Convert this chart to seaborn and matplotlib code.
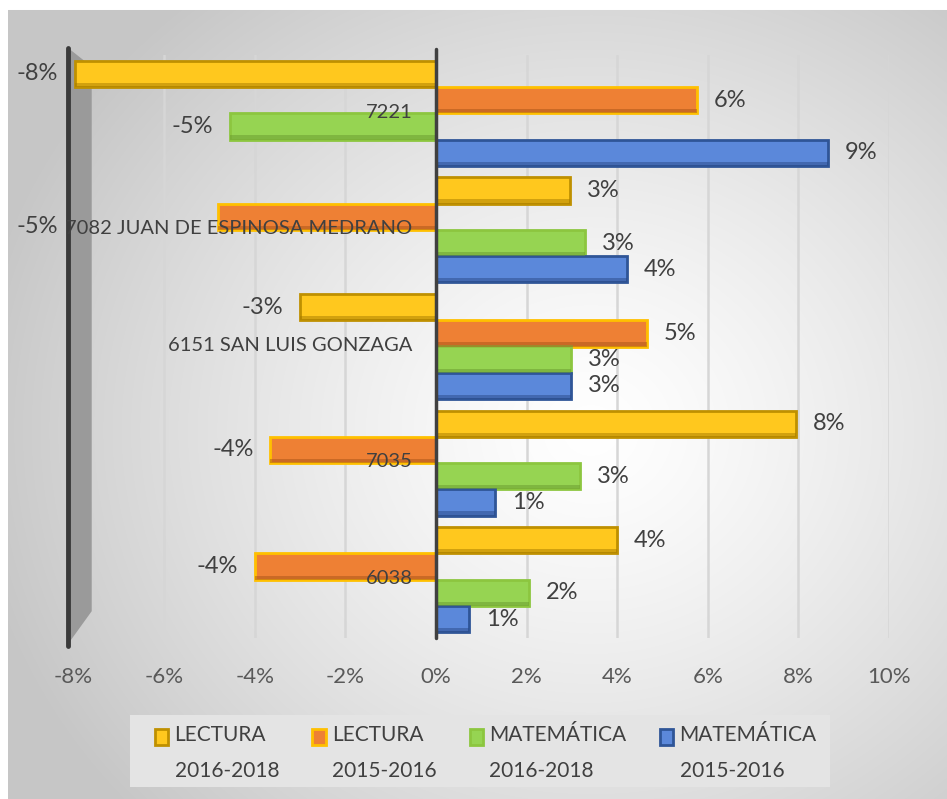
import matplotlib
matplotlib.use("Agg")
import matplotlib.pyplot as plt
import numpy as np
import pandas as pd
import seaborn as sns
from matplotlib.patches import Polygon, Rectangle
from matplotlib.legend_handler import HandlerPatch

# data
schools = ["7221", "7082 JUAN DE ESPINOSA MEDRANO", "6151 SAN LUIS GONZAGA",
           "7035", "6038"]
series = ["LECTURA\n2016-2018", "LECTURA\n2015-2016",
          "MATEMÁTICA\n2016-2018", "MATEMÁTICA\n2015-2016"]
lectura_16_18 = [-7.97, 2.96, -3.0, 7.95, 4.0]
lectura_15_16 = [5.76, -4.81, 4.66, -3.66, -4.0]
matematica_16_18 = [-4.55, 3.29, 2.98, 3.18, 2.05]
matematica_15_16 = [8.65, 4.22, 2.98, 1.3, 0.73]
xticks = [-8, -6, -4, -2, 0, 2, 4, 6, 8, 10]

fills = ["#FFC81E", "#EE8034", "#96D452", "#5B88DA"]
edges = ["#BF9000", "#FFC000", "#8CC63F", "#2F5597"]
shades = ["#A67C00", "#A85418", "#6A9A30", "#2A4A88"]

df = pd.DataFrame({
    "school": schools * 4,
    "serie": np.repeat(series, len(schools)),
    "value": lectura_16_18 + lectura_15_16 + matematica_16_18 + matematica_15_16,
})

sns.set_style("white")
plt.rcParams["font.family"] = ["Lato", "DejaVu Sans"]
txt = "#404040"

W, H = 947, 799
fig = plt.figure(figsize=(W / 100, H / 100), dpi=100)

# background: radial gradient chart area
bg = fig.add_axes([0, 0, 1, 1], zorder=-10)
yy, xx = np.mgrid[0:H, 0:W]
r = np.sqrt(((xx - 590) / 620) ** 2 + ((yy - 430) / 560) ** 2)
shade = np.clip(1.0 - 0.22 * r ** 1.3, 0.78, 1.0)
img = np.dstack([shade] * 3)
img[:10, :] = 1.0
img[:, :8] = 1.0
bg.imshow(img, aspect="auto", extent=[0, 1, 0, 1])
bg.axis("off")

left_px, right_px = 73.6, 889.0
top_px, bot_px = 55, 638
ax = fig.add_axes([left_px / W, 1 - bot_px / H,
                   (right_px - left_px) / W, (bot_px - top_px) / H])
ax.patch.set_alpha(0)

sns.barplot(data=df, y="school", x="value", hue="serie", orient="h",
            order=schools, hue_order=series, palette=fills, saturation=1,
            width=0.9, ax=ax, legend=True, zorder=3)

for i, cont in enumerate(ax.containers):
    for bar in cont:
        bar.set_edgecolor(edges[i])
        bar.set_linewidth(2)
        # darker strip along the bottom, fake 3D
        x0, y0 = bar.get_x(), bar.get_y()
        w, h = bar.get_width(), bar.get_height()
        ax.add_patch(Rectangle((x0, y0 + h * 0.84), w, h * 0.16,
                               facecolor=shades[i], edgecolor="none",
                               alpha=0.5, zorder=3.5))
    vals = [b.get_width() for b in cont]
    labs = ax.bar_label(cont, labels=[f"{v:.0f}%" for v in vals], padding=12,
                        fontsize=17, color=txt, zorder=6)
    if i == 1:
        # this one sits at the far left in the original, beside the name
        labs[1].set_visible(False)
        ax.text(-8.34, 0.97, labs[1].get_text(), ha="right", va="center",
                fontsize=17, color=txt, zorder=6)

ax.set_xlim(-8, 10)
ax.set_ylim(len(schools) - 0.5, -0.5)
ax.set_xticks(xticks)
ax.set_xticklabels([f"{t}%" for t in xticks], fontsize=16, color="#595959")
ax.tick_params(axis="x", length=0, pad=21)
ax.set_yticks([])
ax.set_xlabel("")
ax.set_ylabel("")
for s in ax.spines.values():
    s.set_visible(False)

for t in xticks[1:]:
    if t != 0:
        ax.axvline(t, color="#d6d6d6", lw=1.8, zorder=1)
ax.axvline(0, color="#404040", lw=2.5, ymax=1.01, zorder=4, clip_on=False)

# left wall
wall = Polygon([(-8.12, -0.56), (-7.6, -0.4), (-7.6, 4.27), (-8.12, 4.55)],
               closed=True, facecolor="#9a9a9a", edgecolor="none",
               zorder=2, clip_on=False)
ax.add_patch(wall)
ax.plot([-8.12, -8.12], [-0.56, 4.57], color="#3a3a3a", lw=3.5,
        zorder=2.5, clip_on=False, solid_capstyle="round")

# category labels next to the zero axis
for i, name in enumerate(schools):
    ax.annotate(name, (0, i - 0.01), xytext=(-17, 0), textcoords="offset points",
                ha="right", va="center", fontsize=14.5, color=txt, zorder=7)

# legend
leg = ax.get_legend()
handles = leg.legend_handles
for i, hd in enumerate(handles):
    hd.set_edgecolor(edges[i])
    hd.set_linewidth(2)
leg.remove()


def top_box(legend, orig_handle, xdescent, ydescent, width, height, fontsize):
    # square next to the first line of the label
    return Rectangle((-xdescent, -ydescent + 12), width, height)


fig.add_artist(Rectangle((130 / W, 1 - 787 / H), 700 / W, 72 / H,
                         transform=fig.transFigure, facecolor="#e4e4e4",
                         edgecolor="none", zorder=0))
flg = fig.legend(handles, series, loc="center", bbox_to_anchor=(0.513, 1 - 753 / H),
                 ncol=4, frameon=False, fontsize=15, handlelength=0.65,
                 handleheight=0.8, handletextpad=0.29, columnspacing=1.6,
                 labelcolor=txt,
                 handler_map={Rectangle: HandlerPatch(patch_func=top_box)})
for t in flg.get_texts():
    t.set_linespacing(2.0)
    t.set_multialignment("left")

fig.savefig("out.png", dpi=100)
